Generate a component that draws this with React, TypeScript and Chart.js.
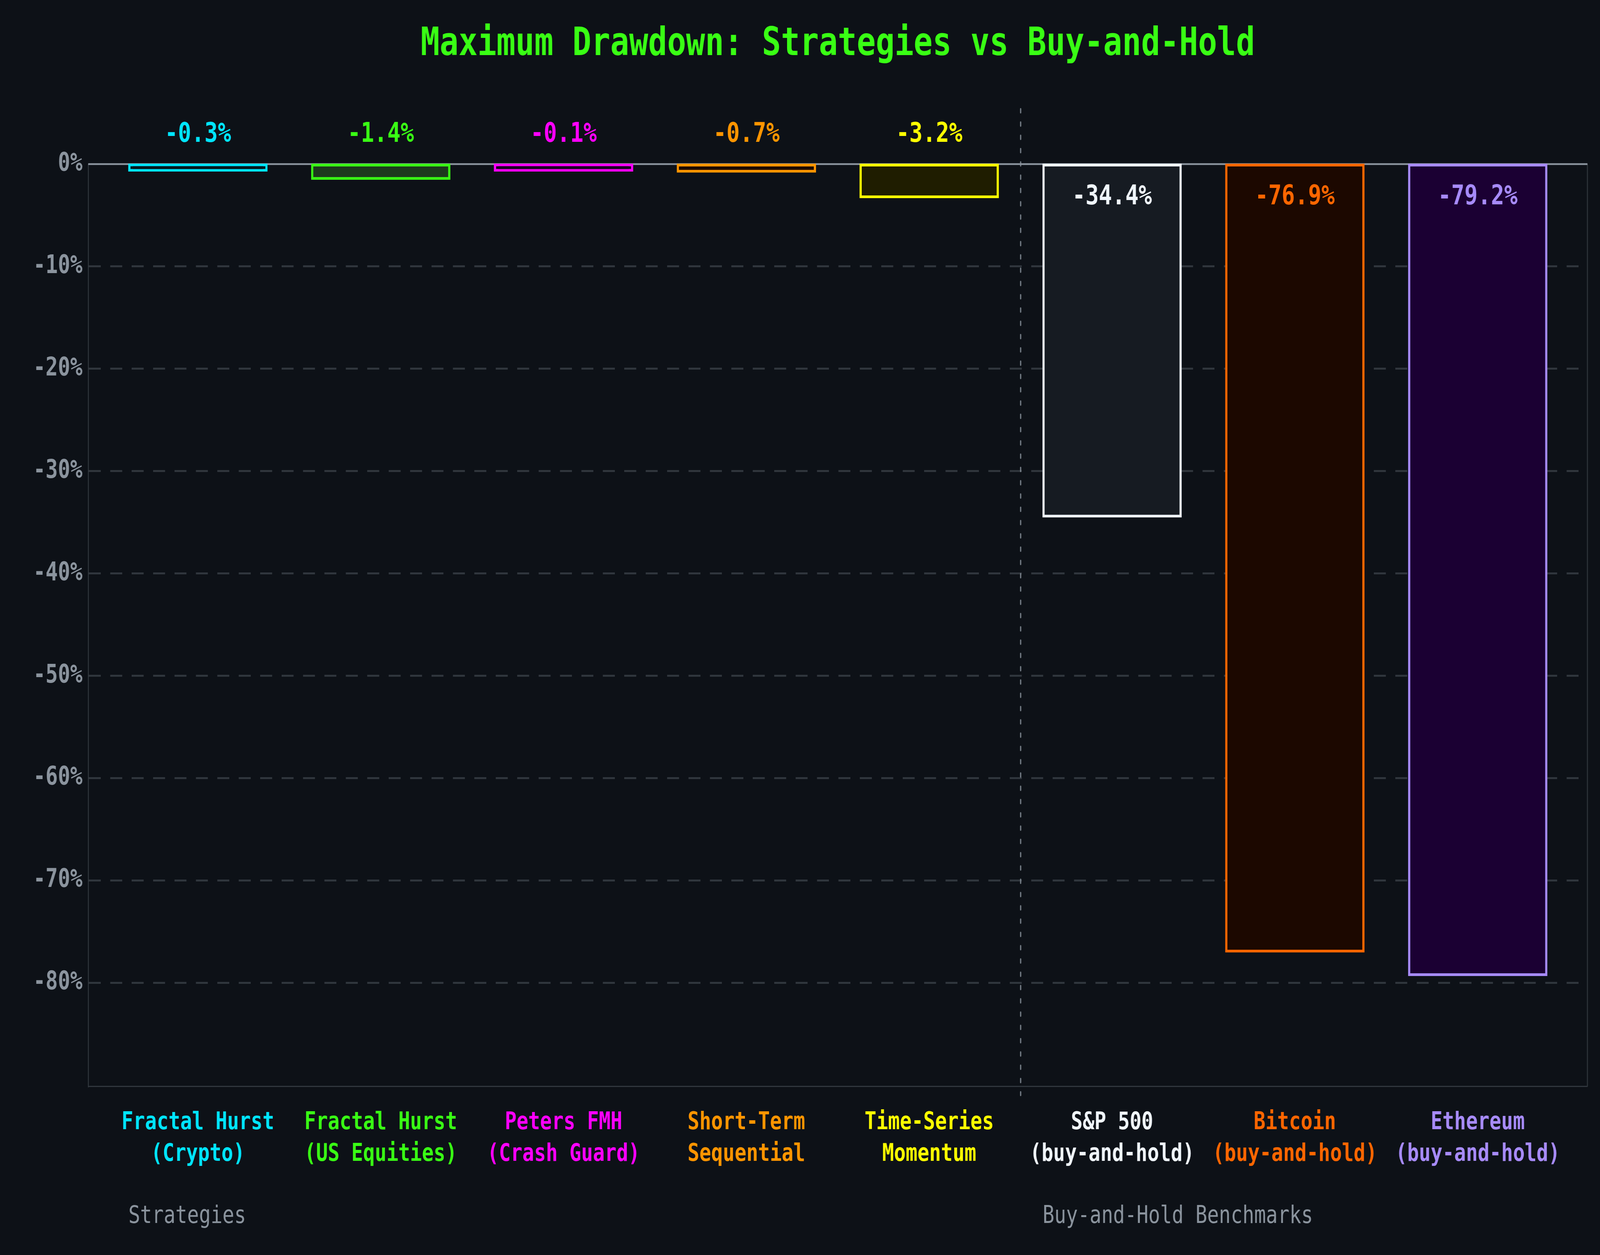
import React, { useEffect, useRef, useState } from "react";
import { Chart, registerables } from "chart.js";

Chart.register(...registerables);

// category labels (two lines each)
const categories: string[][] = [
  ["Fractal Hurst", "(Crypto)"],
  ["Fractal Hurst", "(US Equities)"],
  ["Peters FMH", "(Crash Guard)"],
  ["Short-Term", "Sequential"],
  ["Time-Series", "Momentum"],
  ["S&P 500", "(buy-and-hold)"],
  ["Bitcoin", "(buy-and-hold)"],
  ["Ethereum", "(buy-and-hold)"],
];
const maxDrawdown = [-0.3, -1.4, -0.1, -0.7, -3.2, -34.4, -76.9, -79.2];
// tiny drawdowns are drawn with a minimum visible height
const MIN_BAR = -0.6;
const yTicks = [0, -10, -20, -30, -40, -50, -60, -70, -80];
const groupNames = ["Strategies", "Buy-and-Hold Benchmarks"];
const groupStart = [0, 5];

const lineColors = ["#00e5ff", "#39ff14", "#ff00ff", "#ff9500", "#ffff00", "#f0f6fc", "#ff6600", "#a78bfa"];
const fillColors = ["#03191e", "#1d3a1d", "#1a0022", "#1c0a00", "#1f1d00", "#161b22", "#1c0800", "#1b0033"];

const W = 5080;
const H = 3212;
const FONT = "DejaVu Sans Mono";
const BG = "#0d1117";

const decor = {
  id: "decor",
  beforeDatasetsDraw(chart: any) {
    const { ctx, chartArea, scales } = chart;
    const x = scales.x;
    const y = scales.y;
    const y0 = y.getPixelForValue(0);
    ctx.save();
    // right spine
    ctx.strokeStyle = "#30363d";
    ctx.lineWidth = 3;
    ctx.beginPath();
    ctx.moveTo(chartArea.right, y0);
    ctx.lineTo(chartArea.right, chartArea.bottom);
    ctx.stroke();
    // zero line
    ctx.strokeStyle = "#8b949e";
    ctx.lineWidth = 4.5;
    ctx.beginPath();
    ctx.moveTo(chartArea.left, y0);
    ctx.lineTo(chartArea.right, y0);
    ctx.stroke();
    // dotted separator between groups
    const xs = x.getPixelForValue(groupStart[1] - 0.5);
    ctx.strokeStyle = "rgba(139,148,158,0.85)";
    ctx.lineWidth = 4;
    ctx.lineCap = "round";
    ctx.setLineDash([10, 24]);
    ctx.beginPath();
    ctx.moveTo(xs, y.getPixelForValue(5.4));
    ctx.lineTo(xs, y.getPixelForValue(-91));
    ctx.stroke();
    ctx.restore();
  },
  afterDatasetsDraw(chart: any) {
    const { ctx, chartArea, scales } = chart;
    const x = scales.x;
    const y = scales.y;
    const y0 = y.getPixelForValue(0);
    ctx.save();
    // title
    ctx.fillStyle = "#39ff14";
    ctx.font = `bold 100px "${FONT}"`;
    ctx.textAlign = "center";
    ctx.textBaseline = "alphabetic";
    ctx.fillText("Maximum Drawdown: Strategies vs Buy-and-Hold", (chartArea.left + chartArea.right) / 2, 141);
    // value labels
    ctx.font = `bold 70px "${FONT}"`;
    maxDrawdown.forEach((v, i) => {
      ctx.fillStyle = lineColors[i];
      const px = x.getPixelForValue(i);
      const inside = i >= groupStart[1];
      ctx.fillText(`${v.toFixed(1)}%`, px, inside ? y0 + 103 : y0 - 57);
    });
    // group labels
    ctx.font = `62px "${FONT}"`;
    ctx.fillStyle = "#8b949e";
    ctx.textAlign = "left";
    groupNames.forEach((g, k) => {
      ctx.fillText(g, x.getPixelForValue(groupStart[k] - 0.38), 3130);
    });
    ctx.restore();
  },
};

const App: React.FC = () => {
  const canvasRef = useRef<HTMLCanvasElement | null>(null);
  const chartRef = useRef<Chart | null>(null);
  const [scale, setScale] = useState({ sx: 1, sy: 1 });

  useEffect(() => {
    const fit = () => setScale({ sx: window.innerWidth / W, sy: window.innerHeight / H });
    fit();
    window.addEventListener("resize", fit);
    return () => window.removeEventListener("resize", fit);
  }, []);

  useEffect(() => {
    if (!canvasRef.current) return;
    if (chartRef.current) chartRef.current.destroy();

    chartRef.current = new Chart(canvasRef.current, {
      type: "bar",
      data: {
        datasets: [
          {
            data: maxDrawdown.map((v, i) => ({ x: i, y: Math.min(v, MIN_BAR) })),
            backgroundColor: fillColors,
            borderColor: lineColors,
            borderWidth: 7,
            inflateAmount: 3.5,
            borderSkipped: false,
            barPercentage: 0.75,
            categoryPercentage: 1,
            clip: false,
          },
        ],
      },
      options: {
        responsive: false,
        animation: false,
        devicePixelRatio: 1,
        layout: { padding: { top: 420, right: 40, left: 0, bottom: 0 } },
        plugins: {
          legend: { display: false },
          title: { display: false },
          tooltip: { enabled: false },
        },
        scales: {
          x: {
            type: "linear",
            min: -0.6,
            max: 7.6,
            offset: false,
            afterBuildTicks: (s: any) => {
              s.ticks = categories.map((_, i) => ({ value: i }));
            },
            afterFit: (s: any) => {
              s.height = 432;
            },
            grid: { display: false, drawTicks: false },
            border: { display: true, color: "#30363d", width: 3 },
            ticks: {
              autoSkip: false,
              maxRotation: 0,
              minRotation: 0,
              padding: 54,
              color: (c: any) => lineColors[c.index],
              font: { family: FONT, size: 62, weight: "bold", lineHeight: 1.3 },
              callback: (v: any) => categories[v],
            },
          },
          y: {
            type: "linear",
            min: -90.1,
            max: 0,
            afterBuildTicks: (s: any) => {
              s.ticks = yTicks.map((v) => ({ value: v }));
            },
            afterFit: (s: any) => {
              s.width = 280;
            },
            grid: {
              drawTicks: false,
              lineWidth: 5,
              color: (c: any) => (c.tick && c.tick.value === 0 ? "rgba(0,0,0,0)" : "#30363d"),
            },
            border: { display: true, color: "#30363d", width: 3, dash: [38, 30] },
            ticks: {
              padding: 18,
              color: "#8b949e",
              font: { family: FONT, size: 65, weight: "bold" },
              callback: (v: any) => `${v}%`,
            },
          },
        },
      },
      plugins: [decor],
    } as any);

    return () => {
      if (chartRef.current) {
        chartRef.current.destroy();
        chartRef.current = null;
      }
    };
  }, []);

  return (
    <div style={{ position: "fixed", inset: 0, background: BG, overflow: "hidden" }}>
      <div
        style={{
          position: "absolute",
          left: 0,
          top: 0,
          width: W,
          height: H,
          transformOrigin: "0 0",
          transform: `scale(${scale.sx}, ${scale.sy})`,
        }}
      >
        <canvas ref={canvasRef} width={W} height={H} style={{ display: "block" }} />
      </div>
    </div>
  );
};

export default App;
